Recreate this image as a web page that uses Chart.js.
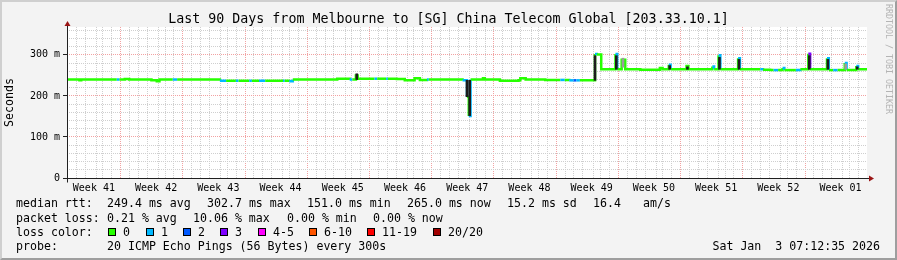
<!DOCTYPE html>
<html lang="en">
<head>
<meta charset="UTF-8">
<title>Last 90 Days from Melbourne to [SG] China Telecom Global</title>
<script src="https://cdn.jsdelivr.net/npm/chart.js"></script>
<style>
  body { margin: 0; background: #fff; }
  .graph {
    position: relative; width: 897px; height: 260px; overflow: hidden;
    background: #f3f3f3; color: #000;
    font-family: 'DejaVu Sans Mono', monospace;
  }
  .graph canvas { position: absolute; left: 0; top: 0; }
  .frame {
    position: absolute; left: 0; top: 0; width: 897px; height: 260px; box-sizing: border-box;
    border-top: 2px solid #cfcfcf; border-left: 2px solid #cfcfcf;
    border-right: 2px solid #9e9e9e; border-bottom: 2px solid #9e9e9e;
    pointer-events: none;
  }
  .title { position: absolute; left: 0; top: 11px; width: 897px; text-align: center; font-size: 13.3px; line-height: 16px; white-space: pre; }
  .txt { position: absolute; font-size: 11.6px; line-height: 14px; white-space: pre; }
  .box { position: absolute; top: 228px; width: 8px; height: 8px; border: 1px solid #000; box-sizing: border-box; }
  .credit { position: absolute; left: 884px; top: 4px; writing-mode: vertical-rl; font-size: 8.3px; line-height: 9px; color: #b4b4b4; white-space: pre; }
</style>
</head>
<body>
<div class="graph">
  <canvas id="rttChart" width="897" height="260"></canvas>
  <div class="title">Last 90 Days from Melbourne to [SG] China Telecom Global [203.33.10.1]</div>
  <div class="credit">RRDTOOL / TOBI OETIKER</div>

  <!-- legend block -->
  <div class="txt" style="left:16px;top:196px">median rtt:</div>
  <div class="txt" style="left:107px;top:196px">249.4 ms avg</div>
  <div class="txt" style="left:207px;top:196px">302.7 ms max</div>
  <div class="txt" style="left:307px;top:196px">151.0 ms min</div>
  <div class="txt" style="left:407px;top:196px">265.0 ms now</div>
  <div class="txt" style="left:507px;top:196px">15.2 ms sd</div>
  <div class="txt" style="left:593px;top:196px">16.4</div>
  <div class="txt" style="left:643px;top:196px">am/s</div>

  <div class="txt" style="left:16px;top:211px">packet loss:</div>
  <div class="txt" style="left:107px;top:211px">0.21 % avg</div>
  <div class="txt" style="left:193px;top:211px">10.06 % max</div>
  <div class="txt" style="left:287px;top:211px">0.00 % min</div>
  <div class="txt" style="left:373px;top:211px">0.00 % now</div>

  <div class="txt" style="left:16px;top:225px">loss color:</div>
  <div class="box" style="left:108px;background:#26ff00"></div><div class="txt" style="left:123px;top:225px">0</div>
  <div class="box" style="left:146px;background:#00b8ff"></div><div class="txt" style="left:161px;top:225px">1</div>
  <div class="box" style="left:183px;background:#0059ff"></div><div class="txt" style="left:198px;top:225px">2</div>
  <div class="box" style="left:220px;background:#7e00ff"></div><div class="txt" style="left:235px;top:225px">3</div>
  <div class="box" style="left:258px;background:#ff00ff"></div><div class="txt" style="left:273px;top:225px">4-5</div>
  <div class="box" style="left:309px;background:#ff5500"></div><div class="txt" style="left:324px;top:225px">6-10</div>
  <div class="box" style="left:367px;background:#ff0000"></div><div class="txt" style="left:382px;top:225px">11-19</div>
  <div class="box" style="left:433px;background:#a10000"></div><div class="txt" style="left:448px;top:225px">20/20</div>

  <div class="txt" style="left:16px;top:239px">probe:</div>
  <div class="txt" style="left:107px;top:239px">20 ICMP Echo Pings (56 Bytes) every 300s</div>
  <div class="txt" style="right:17px;top:239px">Sat Jan  3 07:12:35 2026</div>

  <div class="frame"></div>
</div>
<script>
  // x values are days since the start of the 90 day window
  const weekLabels = ['Week 41', 'Week 42', 'Week 43', 'Week 44', 'Week 45', 'Week 46', 'Week 47',
                      'Week 48', 'Week 49', 'Week 50', 'Week 51', 'Week 52', 'Week 01'];
  const firstWeekLine = 6.525;   // first week boundary, in days
  const spanDays = 90;

  // median rtt (ms) and number of lost pings (of 20)
  const rttDays = [0, 1.4, 1.6, 5.6, 5.9, 6.5, 7.0, 9.5, 10.1, 10.4, 11.9, 12.4, 17.2, 17.9, 19.0, 19.3,
                   20.5, 20.8, 21.6, 22.3, 24.3, 24.5, 25.0, 25.4, 30.4, 31.8, 32.1, 32.5, 32.7, 34.6, 34.9,
                   35.9, 36.1, 37.1, 38.0, 39.1, 39.7, 40.5, 40.7, 44.5, 45.0, 45.2, 45.4, 46.8, 47.0, 48.7,
                   50.8, 51.0, 51.6, 53.8, 55.5, 56.0, 56.5, 57.0, 57.3, 57.7, 59.4, 59.6, 60.1, 61.7, 61.9,
                   62.4, 62.8, 64.5, 66.7, 67.0, 67.7, 67.9, 69.7, 69.9, 72.6, 72.8, 73.3, 73.5, 75.5, 75.7,
                   78.0, 78.3, 79.1, 79.5, 80.0, 80.5, 80.7, 82.0, 82.5, 83.4, 83.6, 85.5, 85.7, 86.2, 86.7,
                   87.5, 87.7, 88.8, 89.0, 90.0];
  const rttMs = [240, 238, 240, 240, 240, 241, 240, 238, 236, 240, 240, 240, 237, 237, 237, 237,
                 237, 237, 237, 237, 237, 237, 236, 240, 242, 240, 240, 250, 242, 242, 242,
                 242, 242, 241, 238, 243, 239, 240, 240, 238, 198, 151, 240, 243, 240, 237,
                 238, 243, 240, 239, 239, 239, 238, 238, 238, 238, 302, 301, 265, 302, 265,
                 288, 265, 264, 268, 265, 276, 265, 273, 265, 272, 265, 299, 265, 292, 265,
                 265, 264, 263, 263, 263, 268, 263, 263, 265, 303, 265, 292, 263, 263, 263,
                 280, 263, 273, 265, 265];
  const rttLoss = [0, 0, 0, 1, 0, 0, 0, 0, 0, 0, 1, 0, 1, 0, 1, 0,
                   1, 0, 1, 0, 1, 0, 1, 0, 0, 1, 0, 0, 0, 1, 0,
                   1, 0, 0, 0, 0, 0, 1, 0, 1, 0, 1, 0, 0, 0, 0,
                   0, 0, 0, 0, 1, 0, 1, 2, 1, 0, 1, 0, 0, 1, 0,
                   0, 0, 0, 0, 0, 1, 0, 0, 0, 1, 0, 1, 0, 1, 0,
                   1, 0, 0, 1, 0, 1, 0, 1, 0, 3, 0, 1, 0, 1, 0,
                   1, 0, 1, 0, 0];

  // smoke: spread of the individual pings where it stands out
  const smokeDays = [32.6, 45.0, 45.3, 59.4, 61.8, 62.55, 67.8, 69.8, 73.4, 75.6, 83.5, 85.6, 87.6, 88.9];
  const smokeLow  = [240, 198, 152, 238, 265, 270, 265, 265, 265, 265, 265, 265, 265, 265];
  const smokeHigh = [254, 238, 238, 298, 298, 292, 274, 271, 294, 289, 298, 289, 278, 271];
  const smokeDense = [1, 1, 1, 1, 1, 0, 1, 1, 1, 1, 1, 1, 0, 1];

  const yLabels = { 0: '0', 100: '100 m', 200: '200 m', 300: '300 m' };
  const yMax = 368;

  const lossColors = ['#26ff00', '#00b8ff', '#0059ff', '#7e00ff', '#ff00ff', '#ff5500', '#ff0000', '#a10000'];
  function lossColor(n) {
    if (n <= 3) return lossColors[n];
    if (n <= 5) return lossColors[4];
    if (n <= 10) return lossColors[5];
    if (n <= 19) return lossColors[6];
    return lossColors[7];
  }

  const FONT = 'DejaVu Sans Mono';
  const MINOR = '#cfcfcf';
  const MAJOR = '#f2a2a2';

  function isWeekLine(v) {
    const r = ((v - firstWeekLine) % 7 + 7) % 7;
    return r < 0.01 || r > 6.99;
  }

  // white plotting canvas
  const plotBg = {
    id: 'plotBg',
    beforeDraw(chart) {
      const { ctx, chartArea: a } = chart;
      ctx.save();
      ctx.fillStyle = '#ffffff';
      ctx.fillRect(a.left, a.top, a.right - a.left, a.bottom - a.top);
      ctx.restore();
    }
  };

  // rrdtool style axes with arrow heads
  const axes = {
    id: 'axes',
    afterDraw(chart) {
      const { ctx, chartArea: a } = chart;
      const x0 = Math.round(a.left) + 0.5, y0 = Math.round(a.bottom) + 0.5;
      ctx.save();
      ctx.strokeStyle = '#202020';
      ctx.lineWidth = 1;
      ctx.beginPath();
      ctx.moveTo(x0, a.top - 3); ctx.lineTo(x0, y0 + 4);
      ctx.moveTo(a.left - 4, y0); ctx.lineTo(a.right + 3, y0);
      ctx.stroke();
      ctx.fillStyle = '#9a1515';
      ctx.beginPath();
      ctx.moveTo(x0, a.top - 6); ctx.lineTo(x0 - 3, a.top - 1); ctx.lineTo(x0 + 3, a.top - 1); ctx.closePath();
      ctx.fill();
      ctx.beginPath();
      ctx.moveTo(a.right + 7, y0); ctx.lineTo(a.right + 2, y0 - 3); ctx.lineTo(a.right + 2, y0 + 3); ctx.closePath();
      ctx.fill();
      ctx.restore();
    }
  };

  new Chart(document.getElementById('rttChart'), {
    type: 'line',
    data: {
      datasets: [
        {
          type: 'bar',
          data: smokeDays.map((d, i) => ({ x: d, y: [smokeLow[i], smokeHigh[i]] })),
          backgroundColor: smokeDense.map(s => s ? '#1c1c1c' : '#9c9c9c'),
          barThickness: 2,
          grouped: false,
          order: 0
        },
        {
          type: 'line',
          data: rttDays.map((d, i) => ({ x: d, y: rttMs[i] })),
          borderColor: lossColors[0],
          borderWidth: 2.5,
          pointRadius: 0,
          stepped: true,
          segment: { borderColor: ctx => lossColor(rttLoss[ctx.p0DataIndex]) },
          order: 1
        }
      ]
    },
    options: {
      responsive: false,
      animation: false,
      devicePixelRatio: 1,
      layout: { padding: { left: 0, top: 27, right: 30, bottom: 62 } },
      plugins: { legend: { display: false }, tooltip: { enabled: false }, title: { display: false } },
      scales: {
        x: {
          type: 'linear', min: 0, max: spanDays, offset: false,
          afterBuildTicks(scale) {
            const t = [];
            for (let k = 0; firstWeekLine - 6 + k < spanDays; k++) t.push({ value: firstWeekLine - 6 + k });
            weekLabels.forEach((w, i) => t.push({ value: firstWeekLine - 3.5 + 7 * i, week: w }));
            t.sort((p, q) => p.value - q.value);
            scale.ticks = t;
          },
          afterFit(scale) { scale.height = 20; },
          ticks: {
            autoSkip: false, maxRotation: 0, padding: 4, color: '#000',
            font: { family: FONT, size: 10 },
            callback: (v, i, ticks) => ticks[i].week || ''
          },
          grid: {
            drawTicks: false, lineWidth: 1,
            color: ctx => (!ctx.tick || ctx.tick.week) ? 'rgba(0,0,0,0)' : (isWeekLine(ctx.tick.value) ? MAJOR : MINOR)
          },
          border: { display: false, dash: [1, 1] }
        },
        y: {
          type: 'linear', min: 0, max: yMax,
          afterBuildTicks(scale) {
            const t = [];
            for (let v = 0; v <= 360; v += 20) t.push({ value: v });
            scale.ticks = t;
          },
          afterFit(scale) { scale.width = 67; },
          ticks: {
            autoSkip: false, padding: 3, color: '#000',
            font: { family: FONT, size: 10 },
            callback: v => yLabels[v] !== undefined ? yLabels[v] : ''
          },
          grid: {
            lineWidth: 1, tickLength: 4,
            color: ctx => ctx.tick && ctx.tick.value % 100 === 0 ? MAJOR : MINOR,
            tickColor: ctx => ctx.tick && ctx.tick.value % 100 === 0 ? '#202020' : 'rgba(0,0,0,0)'
          },
          border: { display: false, dash: [1, 1] },
          title: {
            display: true, text: 'Seconds', color: '#000',
            font: { family: FONT, size: 11.6 }, padding: { top: 3, bottom: 0 }
          }
        }
      }
    },
    plugins: [plotBg, axes]
  });
</script>
</body>
</html>
